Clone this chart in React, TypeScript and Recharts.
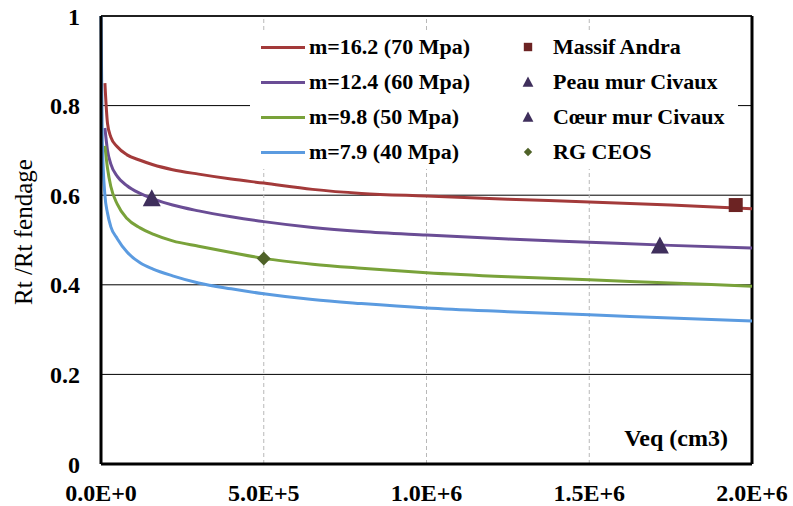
import React from "react";
import {
  ComposedChart,
  Line,
  Scatter,
  XAxis,
  YAxis,
  CartesianGrid,
  ReferenceLine,
} from "recharts";

// Veq (cm3) sample points
const veq = [
  0, 4e3, 1.2e4, 2e4, 3e4, 5e4, 8e4, 1.2e5, 1.6e5, 2.2e5, 3e5, 4e5, 5e5,
  6.5e5, 8e5, 1e6, 1.25e6, 1.5e6, 1.75e6, 2e6,
];

const m162 = [
  null, null, 0.85, 0.76, 0.73, 0.708, 0.69, 0.678, 0.668, 0.657, 0.647,
  0.636, 0.627, 0.613, 0.604, 0.598, 0.591, 0.585, 0.578, 0.57,
];
const m124 = [
  null, null, 0.75, 0.7, 0.67, 0.642, 0.621, 0.604, 0.592, 0.578, 0.565,
  0.552, 0.541, 0.528, 0.519, 0.511, 0.502, 0.495, 0.488, 0.482,
];
const m98 = [
  null, null, 0.71, 0.66, 0.62, 0.58, 0.548, 0.527, 0.513, 0.498, 0.486,
  0.472, 0.459, 0.446, 0.437, 0.427, 0.418, 0.411, 0.404, 0.397,
];
const m79 = [
  1.0, 0.72, 0.6, 0.56, 0.53, 0.503, 0.473, 0.449, 0.435, 0.42, 0.404,
  0.391, 0.38, 0.367, 0.358, 0.348, 0.34, 0.333, 0.326, 0.319,
];

const massifAndra = [{ x: 1.95e6, y: 0.578 }];
const peauCivaux = [{ x: 1.56e5, y: 0.593 }];
const coeurCivaux = [{ x: 1.717e6, y: 0.488 }];
const rgCeos = [{ x: 5.0e5, y: 0.4585 }];

const xTicks = [0, 5e5, 1e6, 1.5e6, 2e6];
const yTicks = [0, 0.2, 0.4, 0.6, 0.8, 1];

const lineSeries = [
  { key: "m162", name: "m=16.2 (70 Mpa)", color: "#a33a3a" },
  { key: "m124", name: "m=12.4 (60 Mpa)", color: "#6a4d95" },
  { key: "m98", name: "m=9.8 (50 Mpa)", color: "#79a23a" },
  { key: "m79", name: "m=7.9 (40 Mpa)", color: "#5b9be0" },
];

const pointSeries = [
  { name: "Massif Andra", data: massifAndra, shape: "square", color: "#6c2323" },
  { name: "Peau mur Civaux", data: peauCivaux, shape: "triangle", color: "#3f2f5c" },
  { name: "Cœur mur Civaux", data: coeurCivaux, shape: "triangle", color: "#3f2f5c" },
  { name: "RG CEOS", data: rgCeos, shape: "diamond", color: "#4f6228" },
];

const rows = veq.map((x, i) => ({
  x,
  m162: m162[i],
  m124: m124[i],
  m98: m98[i],
  m79: m79[i],
}));

const FONT = "'Liberation Serif', 'Times New Roman', serif";

function sci(v: number) {
  if (v === 0) return "0.0E+0";
  const e = Math.floor(Math.log10(v));
  return `${(v / Math.pow(10, e)).toFixed(1)}E+${e}`;
}

function Marker({ shape, color, cx, cy, s = 1 }: any) {
  if (shape === "square") {
    const h = 7 * s;
    return <rect x={cx - h} y={cy - h} width={h * 2} height={h * 2} fill={color} />;
  }
  if (shape === "triangle") {
    const w = 9 * s;
    return (
      <polygon
        points={`${cx},${cy - 9 * s} ${cx + w},${cy + 8 * s} ${cx - w},${cy + 8 * s}`}
        fill={color}
      />
    );
  }
  const d = 7 * s;
  return (
    <polygon
      points={`${cx},${cy - d} ${cx + d},${cy} ${cx},${cy + d} ${cx - d},${cy}`}
      fill={color}
    />
  );
}

function LegendBox() {
  const rowY = [47, 82, 117, 152];
  const text: React.CSSProperties = {
    position: "absolute",
    fontFamily: FONT,
    fontWeight: "bold",
    fontSize: 22,
    lineHeight: "22px",
    whiteSpace: "nowrap",
    color: "#000",
  };
  return (
    <div
      style={{
        position: "absolute",
        left: 250,
        top: 30,
        width: 488,
        height: 139,
        background: "#fff",
      }}>
      {lineSeries.map((s, i) => (
        <React.Fragment key={s.key}>
          <div
            style={{
              position: "absolute",
              left: 11,
              top: rowY[i] - 30 - 1.5,
              width: 44,
              height: 3,
              background: s.color,
            }}
          />
          <div style={{ ...text, left: 59, top: rowY[i] - 30 - 11 }}>{s.name}</div>
        </React.Fragment>
      ))}
      {pointSeries.map((p, i) => (
        <React.Fragment key={p.name}>
          <svg
            width={20}
            height={20}
            style={{ position: "absolute", left: 268, top: rowY[i] - 30 - 10 }}>
            <Marker shape={p.shape} color={p.color} cx={10} cy={10} s={0.6} />
          </svg>
          <div style={{ ...text, left: 303, top: rowY[i] - 30 - 11 }}>{p.name}</div>
        </React.Fragment>
      ))}
    </div>
  );
}

export default function App() {
  return (
    <div
      style={{
        position: "absolute",
        left: 0,
        top: 0,
        width: 793,
        height: 506,
        background: "#fff",
      }}>
      <ComposedChart
        width={793}
        height={506}
        data={rows}
        margin={{ top: 16, right: 41, left: 41, bottom: 12 }}>
        <CartesianGrid horizontal vertical={false} stroke="#000" strokeWidth={1} />
        {xTicks.slice(1, -1).map((t) => (
          <ReferenceLine key={t} x={t} stroke="#b8b8b8" strokeDasharray="4 3" />
        ))}
        <XAxis
          dataKey="x"
          type="number"
          domain={[0, 2e6]}
          ticks={xTicks}
          tickFormatter={sci}
          tickLine={false}
          tickSize={0}
          tickMargin={20}
          height={30}
          axisLine={{ stroke: "#000", strokeWidth: 3 }}
          tick={{ fill: "#000", fontFamily: FONT, fontWeight: "bold", fontSize: 24 }}
        />
        <YAxis
          type="number"
          domain={[0, 1]}
          ticks={yTicks}
          tickFormatter={(v: number) => (v === 0 || v === 1 ? String(v) : v.toFixed(1))}
          tickLine={false}
          tickSize={0}
          tickMargin={21}
          width={60}
          axisLine={{ stroke: "#000", strokeWidth: 3 }}
          tick={{ fill: "#000", fontFamily: FONT, fontWeight: "bold", fontSize: 24 }}
          label={{
            content: () => (
              <text
                x={32}
                y={232}
                transform="rotate(-90, 32, 232)"
                textAnchor="middle"
                fontFamily={FONT}
                fontSize={25}
                fill="#000">
                Rt /Rt fendage
              </text>
            ),
          }}
        />
        <ReferenceLine y={1} stroke="#000" strokeWidth={1.5} />
        <ReferenceLine
          x={2e6}
          stroke="#000"
          strokeWidth={3}
          label={(props: any) => {
            const vb = props.viewBox || {};
            return (
              <text
                x={vb.x - 24}
                y={vb.y + vb.height - 18}
                textAnchor="end"
                fontFamily={FONT}
                fontWeight="bold"
                fontSize={24}
                fill="#000">
                Veq (cm3)
              </text>
            );
          }}
        />
        {lineSeries.map((s) => (
          <Line
            key={s.key}
            dataKey={s.key}
            type="monotone"
            stroke={s.color}
            strokeWidth={3}
            dot={false}
            activeDot={false}
            isAnimationActive={false}
          />
        ))}
        {pointSeries.map((p) => (
          <Scatter
            key={p.name}
            data={p.data}
            dataKey="y"
            isAnimationActive={false}
            shape={(props: any) => (
              <Marker shape={p.shape} color={p.color} cx={props.cx} cy={props.cy} />
            )}
          />
        ))}
      </ComposedChart>
      <LegendBox />
    </div>
  );
}
